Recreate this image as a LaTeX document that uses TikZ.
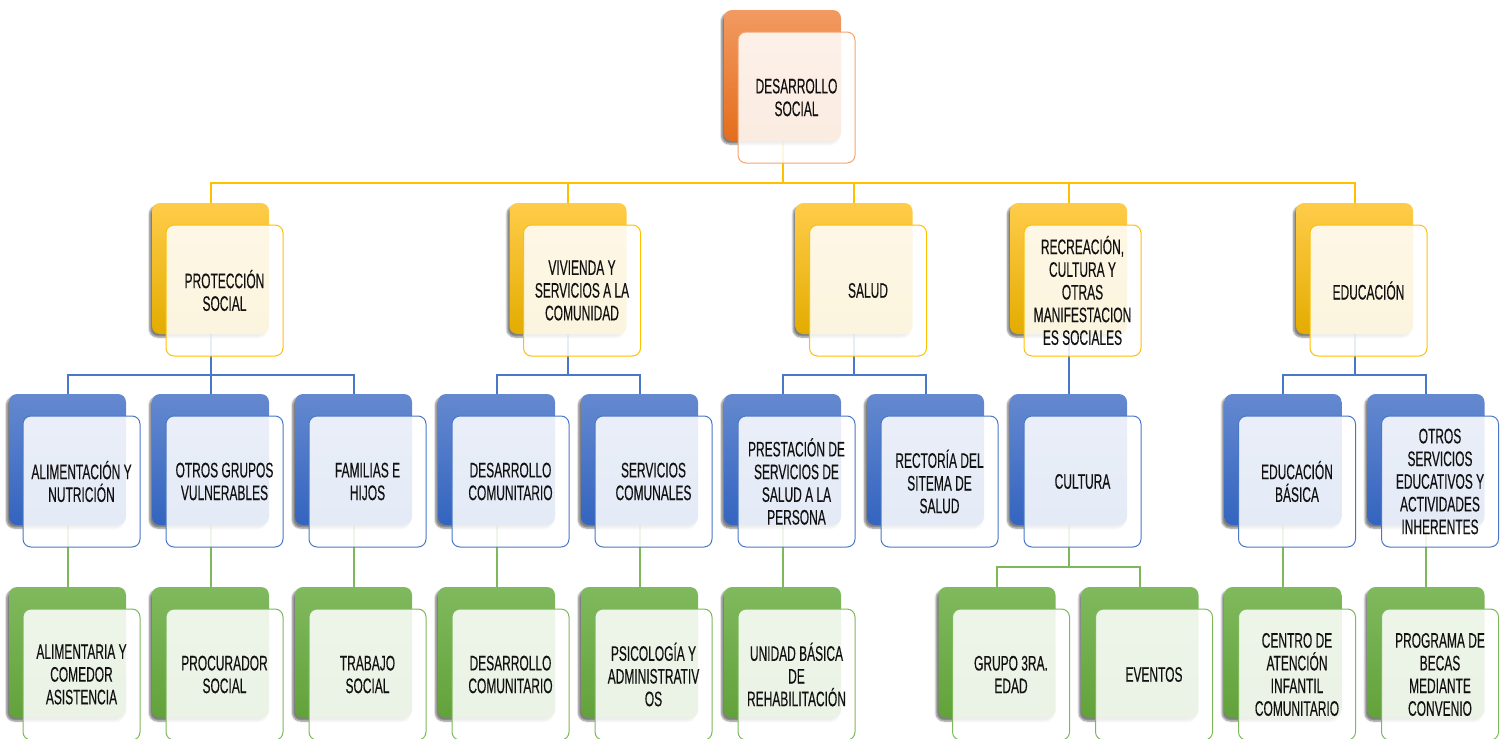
\documentclass[tikz,border=0pt]{standalone}
\usepackage{fontspec}
\newfontfamily\boxfont{Liberation Sans}[FakeStretch=0.57,FakeBold=0.35]
\usetikzlibrary{shadows.blur}
\definecolor{orgtop}{HTML}{F29A62}
\definecolor{orgbot}{HTML}{E46D1C}
\definecolor{orgline}{HTML}{F2A574}
\definecolor{yeltop}{HTML}{FFCC4A}
\definecolor{yelmid}{HTML}{FFC000}
\definecolor{yelbot}{HTML}{E3AC00}
\definecolor{yelline}{HTML}{FFC000}
\definecolor{blutop}{HTML}{6589D0}
\definecolor{blubot}{HTML}{3364BF}
\definecolor{bluline}{HTML}{4A78C8}
\definecolor{gretop}{HTML}{80B95E}
\definecolor{grebot}{HTML}{62A23A}
\definecolor{greline}{HTML}{7DB85A}
\definecolor{txt}{HTML}{111111}
\pgfdeclarelayer{bg}
\pgfsetlayers{bg,main}
\newcommand{\orgbox}[6]{%
  \node[#4] (#1b) at (#2+57.5,#3+65.5) {};
  \node[#5] (#1) at (#2+71.5,#3+87.5) {#6};
}
\begin{document}
\begin{tikzpicture}[x=1pt,y=-1pt,
  backbox/.style={minimum width=117pt,minimum height=131pt,inner sep=0pt,rounded corners=8pt,
    blur shadow={shadow xshift=-2.5pt,shadow yshift=-3pt,shadow opacity=50,shadow blur steps=6}},
  frontbox/.style={minimum width=117pt,minimum height=131pt,inner sep=0pt,rounded corners=8pt,
    fill=white,fill opacity=0.87,text opacity=1,line width=1pt,
    font=\boxfont\fontsize{21}{22.7}\selectfont,text=txt,align=center},
  orangeback/.style={backbox,top color=orgtop,bottom color=orgbot},
  orangefront/.style={frontbox,draw=orgline},
  yellowback/.style={backbox,top color=yeltop,middle color=yelmid,bottom color=yelbot},
  yellowfront/.style={frontbox,draw=yelline},
  blueback/.style={backbox,top color=blutop,bottom color=blubot},
  bluefront/.style={frontbox,draw=bluline},
  greenback/.style={backbox,top color=gretop,bottom color=grebot},
  greenfront/.style={frontbox,draw=greline},
  ylink/.style={draw=yelline,line width=2pt},
  blink/.style={draw=bluline,line width=2pt},
  glink/.style={draw=greline,line width=2pt}]
\useasboundingbox (0,0) rectangle (1505,739);

% level 0
\orgbox{top}{725}{10}{orangeback}{orangefront}{DESARROLLO\\SOCIAL}
% level 1
\orgbox{pro}{153}{203}{yellowback}{yellowfront}{PROTECCIÓN\\SOCIAL}
\orgbox{viv}{510.5}{203}{yellowback}{yellowfront}{VIVIENDA Y\\SERVICIOS A LA\\COMUNIDAD}
\orgbox{sal}{796.5}{203}{yellowback}{yellowfront}{SALUD}
\orgbox{rec}{1011}{203}{yellowback}{yellowfront}{RECREACIÓN,\\CULTURA Y\\OTRAS\\MANIFESTACION\\ES SOCIALES}
\orgbox{edu}{1297}{203}{yellowback}{yellowfront}{EDUCACIÓN}
% level 2
\orgbox{ali}{10}{394}{blueback}{bluefront}{ALIMENTACIÓN Y\\NUTRICIÓN}
\orgbox{otr}{153}{394}{blueback}{bluefront}{OTROS GRUPOS\\VULNERABLES}
\orgbox{fam}{296}{394}{blueback}{bluefront}{FAMILIAS E\\HIJOS}
\orgbox{dco}{439}{394}{blueback}{bluefront}{DESARROLLO\\COMUNITARIO}
\orgbox{sco}{582}{394}{blueback}{bluefront}{SERVICIOS\\COMUNALES}
\orgbox{pre}{725}{394}{blueback}{bluefront}{PRESTACIÓN DE\\SERVICIOS DE\\SALUD A LA\\PERSONA}
\orgbox{rect}{868}{394}{blueback}{bluefront}{RECTORÍA DEL\\SITEMA DE\\SALUD}
\orgbox{cul}{1011}{394}{blueback}{bluefront}{CULTURA}
\orgbox{eba}{1225.5}{394}{blueback}{bluefront}{EDUCACIÓN\\BÁSICA}
\orgbox{ose}{1368.5}{394}{blueback}{bluefront}{OTROS\\SERVICIOS\\EDUCATIVOS Y\\ACTIVIDADES\\INHERENTES}
% level 3
\orgbox{alc}{10}{587}{greenback}{greenfront}{ALIMENTARIA Y\\COMEDOR\\ASISTENCIA}
\orgbox{proc}{153}{587}{greenback}{greenfront}{PROCURADOR\\SOCIAL}
\orgbox{tra}{296}{587}{greenback}{greenfront}{TRABAJO\\SOCIAL}
\orgbox{dcb}{439}{587}{greenback}{greenfront}{DESARROLLO\\COMUNITARIO}
\orgbox{psi}{582}{587}{greenback}{greenfront}{PSICOLOGÍA Y\\ADMINISTRATIV\\OS}
\orgbox{uni}{725}{587}{greenback}{greenfront}{UNIDAD BÁSICA\\DE\\REHABILITACIÓN}
\orgbox{gru}{939.5}{587}{greenback}{greenfront}{GRUPO 3RA.\\EDAD}
\orgbox{eve}{1082.5}{587}{greenback}{greenfront}{EVENTOS}
\orgbox{cen}{1225.5}{587}{greenback}{greenfront}{CENTRO DE\\ATENCIÓN\\INFANTIL\\COMUNITARIO}
\orgbox{prog}{1368.5}{587}{greenback}{greenfront}{PROGRAMA DE\\BECAS\\MEDIANTE\\CONVENIO}

\begin{pgfonlayer}{bg}
\foreach \c in {prob,vivb,salb,recb,edub}
  \draw[ylink] (topb.south) -- ++(0,42) -| (\c.north);
\foreach \p/\c in {prob/alib,prob/otrb,prob/famb,vivb/dcob,vivb/scob,salb/preb,salb/rectb,recb/culb,edub/ebab,edub/oseb}
  \draw[blink] (\p.south) -- ++(0,41) -| (\c.north);
\foreach \p/\c in {alib/alcb,otrb/procb,famb/trab,dcob/dcbb,scob/psib,preb/unib,culb/grub,culb/eveb,ebab/cenb,oseb/progb}
  \draw[glink] (\p.south) -- ++(0,42) -| (\c.north);
\end{pgfonlayer}
\end{tikzpicture}
\end{document}
